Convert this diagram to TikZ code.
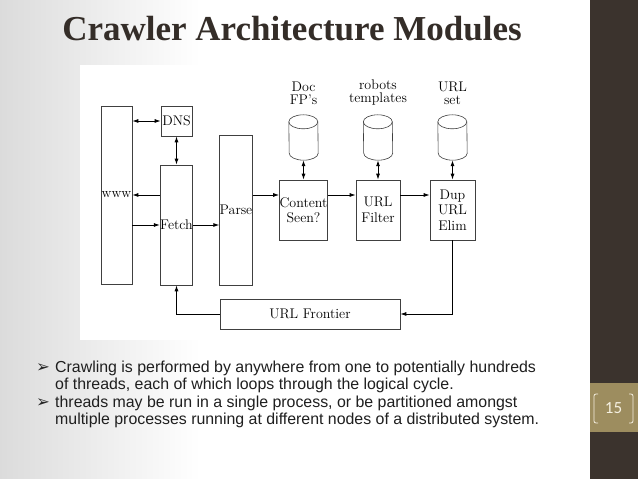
\documentclass[tikz,border=0pt]{standalone}
\usepackage{fontspec}
\usepackage{tikz}
\usetikzlibrary{arrows.meta}
\newfontfamily\titlefont{Liberation Serif}
\newfontfamily\slidefont{Liberation Sans}
\newfontfamily\numfont{Carlito}
\newfontfamily\symfont{DejaVu Sans}

\begin{document}
\begin{tikzpicture}[x=1pt,y=1pt,
  modbox/.style={draw=black!75, line width=0.6pt, inner sep=0pt, align=center,
    font=\fontsize{14}{15.5}\selectfont},
  dbspot/.style={inner sep=0pt, minimum width=29pt, minimum height=45pt},
  dblabel/.style={anchor=south, align=center, inner sep=0pt,
    font=\fontsize{14}{13}\selectfont},
  flow/.style={line width=0.9pt, -{Latex[length=6pt,width=4pt]}},
  twoway/.style={line width=0.9pt, {Latex[length=6pt,width=4pt]}-{Latex[length=6pt,width=4pt]}},
  bulletmark/.style={anchor=base west, inner sep=0pt, text=black!85,
    font=\symfont\fontsize{16.5}{16.5}\selectfont},
  bulletline/.style={anchor=base west, inner sep=0pt, text=black!88,
    font=\slidefont\fontsize{15.9}{17}\selectfont}]
\definecolor{barbrown}{RGB}{59,51,45}
\definecolor{bargold}{RGB}{157,141,95}
\definecolor{titlebrown}{RGB}{52,45,40}
\definecolor{numwhite}{RGB}{245,240,225}
\path[use as bounding box,fill=white] (0,0) rectangle (638,479);

% slide background
\shade[left color=black!14, right color=white] (0,0) rectangle (200,479);
\fill[barbrown] (590,0) rectangle (638,479);
\fill[bargold] (590,47) rectangle (638,96);
\draw[numwhite, line width=0.8pt, rounded corners=2pt] (598,85) -- (594,85) -- (594,56) -- (598,56);
\draw[numwhite, line width=0.8pt, rounded corners=2pt] (629,85) -- (633,85) -- (633,56) -- (629,56);
\node[text=numwhite, inner sep=0pt, font=\numfont\fontsize{17}{17}\selectfont] (pagenum) at (613.5,70.5) {15};

\node[anchor=base, inner sep=0pt, text=titlebrown,
  font=\titlefont\bfseries\fontsize{35}{40}\selectfont] (title) at (292,438) {Crawler Architecture Modules};

% diagram
\fill[white] (80,139) rectangle (480,414);

\node[modbox, minimum width=31pt, minimum height=178pt] (www) at (116.5,284) {www};
\node[modbox, minimum width=31pt, minimum height=30pt] (dns) at (176.5,358) {DNS};
\node[modbox, minimum width=31pt, minimum height=120pt] (fetch) at (176.5,254) {Fetch};
\node[modbox, minimum width=32pt, minimum height=150pt] (parse) at (236,269) {Parse};
\node[modbox, minimum width=45pt, minimum height=60pt] (seen) at (303.5,269) {Content\\Seen?};
\node[modbox, minimum width=44pt, minimum height=60pt] (filter) at (378,269) {URL\\Filter};
\node[modbox, minimum width=45pt, minimum height=60pt] (dupelim) at (452.5,269) {Dup\\URL\\Elim};
\node[modbox, minimum width=180pt, minimum height=30pt] (frontier) at (310,165) {URL Frontier};

% stores
\node[dbspot] (fpdb) at (303.5,341.5) {};
\node[dbspot] (robotsdb) at (378,341.5) {};
\node[dbspot] (urldb) at (452.5,341.5) {};
\foreach \db in {fpdb,robotsdb,urldb} {
  \draw[black!75, line width=0.6pt] ([yshift=-7pt]\db.north west)
    arc[start angle=180, end angle=0, x radius=14.5pt, y radius=7pt]
    -- ([yshift=7pt]\db.south east)
    arc[start angle=0, end angle=-180, x radius=14.5pt, y radius=7pt] -- cycle;
  \draw[black!75, line width=0.6pt] ([yshift=-7pt]\db.north west)
    arc[start angle=180, end angle=360, x radius=14.5pt, y radius=7pt];
}
\node[dblabel] (fplabel) at (303.5,374) {Doc\\FP’s};
\node[dblabel] (robotslabel) at (378,374) {robots\\templates};
\node[dblabel] (urllabel) at (452.5,374) {URL\\set};

% connectors
\draw[twoway] (www.east |- dns.west) -- (dns.west);
\draw[twoway] (dns.south) -- (fetch.north);
\draw[flow] ([yshift=30pt]fetch.west) -- (www.east);
\draw[flow] (www.east |- fetch.west) -- (fetch.west);
\draw[flow] (fetch.east) -- (fetch.east -| parse.west);
\draw[flow] ([yshift=15pt]parse.east) -- ([yshift=15pt]seen.west);
\draw[flow] ([yshift=15pt]seen.east) -- ([yshift=15pt]filter.west);
\draw[flow] ([yshift=15pt]filter.east) -- ([yshift=15pt]dupelim.west);
\draw[flow] (dupelim.south) |- (frontier.east);
\draw[flow] (frontier.west) -| (fetch.south);
\draw[twoway] (fpdb.south) -- (seen.north);
\draw[twoway] (robotsdb.south) -- (filter.north);
\draw[twoway] (urldb.south) -- (dupelim.north);

% bullets
\node[bulletmark] (mark1) at (36,106) {➢};
\node[bulletline] (line1) at (55,106) {Crawling is performed by anywhere from one to potentially hundreds};
\node[bulletline] (line2) at (55,89) {of threads, each of which loops through the logical cycle.};
\node[bulletmark] (mark2) at (36,71) {➢};
\node[bulletline] (line3) at (55,71) {threads may be run in a single process, or be partitioned amongst};
\node[bulletline] (line4) at (55,54) {multiple processes running at different nodes of a distributed system.};
\end{tikzpicture}
\end{document}
